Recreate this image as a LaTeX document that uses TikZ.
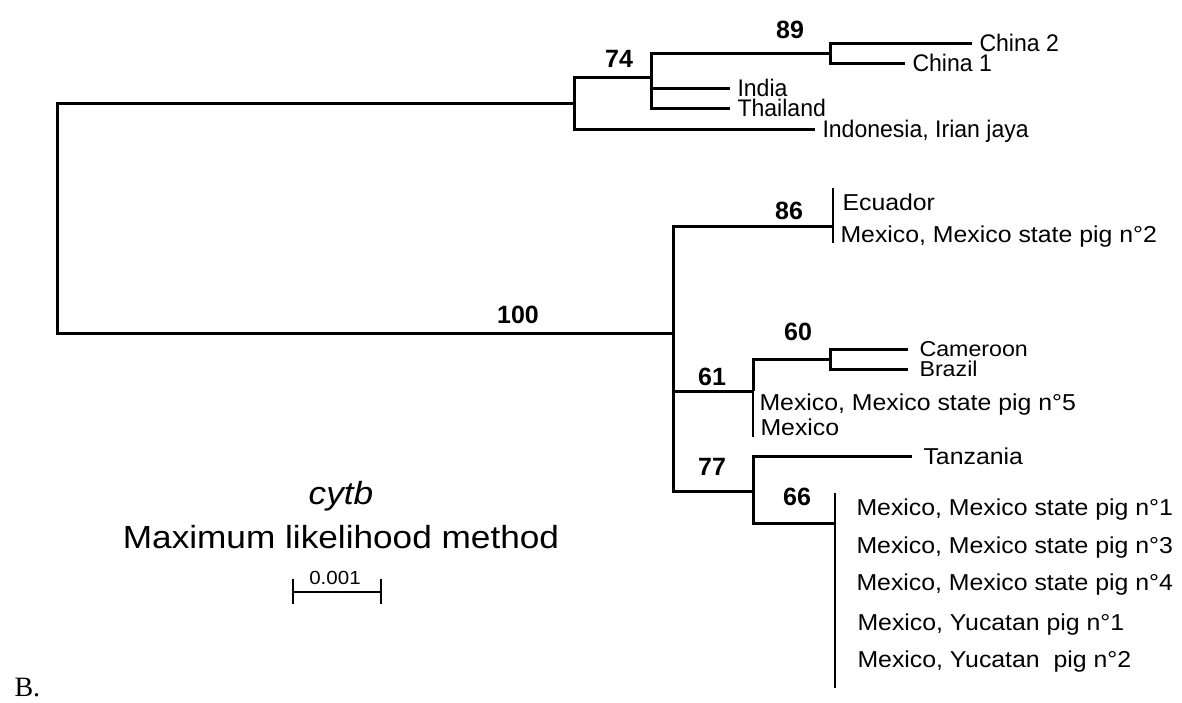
\documentclass[tikz,border=0pt]{standalone}
\usepackage{fontspec}
\setmainfont{Liberation Sans}
\newfontfamily\upfont[FakeStretch=0.96]{Liberation Sans}
\newfontfamily\lowfont[FakeStretch=1.08]{Liberation Sans}
\newfontfamily\titlefont[FakeStretch=1.1]{Liberation Sans}
\newfontfamily\letterfont{Liberation Serif}

\begin{document}
\begin{tikzpicture}[x=1pt, y=-1pt, line width=3pt,
  upleaf/.style={anchor=west, inner xsep=6pt, inner ysep=0pt, text height=17pt, text depth=0pt,
    font=\upfont\fontsize{24}{28}\selectfont},
  lowleaf/.style={anchor=west, inner xsep=2pt, inner ysep=0pt, text height=16.5pt, text depth=0pt,
    font=\lowfont\fontsize{23}{27}\selectfont},
  tip/.style={lowleaf, inner xsep=10pt},
  pairtip/.style={tip, text height=15.5pt, font=\lowfont\fontsize{21.5}{25}\selectfont},
  boot/.style={inner sep=0pt, font=\bfseries\fontsize{25}{30}\selectfont},
  bar/.style={line width=2.5pt}]
  \useasboundingbox (0,0) rectangle (1182,702);

  % inner nodes of the tree
  \coordinate (root) at (57,218);
  \coordinate (nA) at (574,103);
  \coordinate (n74) at (651,77);
  \coordinate (n89) at (830,53);
  \coordinate (nB) at (673,333);
  \coordinate (c86) at (833,226);
  \coordinate (n61) at (753,391);
  \coordinate (n60) at (830,359);
  \coordinate (n77) at (753,491);
  \coordinate (c66) at (835,523);

  % upper clade
  \node[upleaf] (China2) at (972,43) {China 2};
  \node[upleaf] (China1) at (905,63) {China 1};
  \node[upleaf] (India) at (730,88) {India};
  \node[upleaf] (Thailand) at (730,108) {Thailand};
  \node[upleaf] (Indonesia) at (815,129) {Indonesia, Irian jaya};

  % lower clade
  \node[lowleaf] (Ecuador) at (839,202) {Ecuador};
  \node[lowleaf] (MexSt2) at (837,234) {Mexico, Mexico state pig n°2};
  \node[pairtip] (Cameroon) at (908,349) {Cameroon};
  \node[pairtip] (Brazil) at (908,369) {Brazil};
  \node[lowleaf] (MexSt5) at (756,402) {Mexico, Mexico state pig n°5};
  \node[lowleaf] (Mexico) at (757,427) {Mexico};
  \node[tip] (Tanzania) at (912,456) {Tanzania};
  \foreach \x/\y/\txt [count=\i] in {853/507/{Mexico, Mexico state pig n°1},
      853/545/{Mexico, Mexico state pig n°3}, 853/582/{Mexico, Mexico state pig n°4},
      854/622/{Mexico, Yucatan pig n°1}, 854/659/{Mexico, Yucatan\ \ pig n°2}} {
    \node[lowleaf] (grp\i) at (\x,\y) {\txt};
  }

  % branches
  \draw (nA) -| (root) |- (nB);
  \draw (n74) -| (nA) |- (Indonesia);
  \draw (n89) -| (n74) |- (Thailand);
  \draw (n74) |- (India);
  \draw (China2) -| (n89) |- (China1);
  \draw (c86) -| (nB) |- (n77);
  \draw (nB) |- (n61);
  \draw (n60) -| (n61);
  \draw (Cameroon) -| (n60) |- (Brazil);
  \draw (Tanzania) -| (n77) |- (c66);

  % collapsed tips
  \coordinate (top86) at (833,188);
  \coordinate (bot86) at (833,243);
  \coordinate (bot61) at (753,437);
  \coordinate (top66) at (835,493);
  \coordinate (bot66) at (835,688);
  \draw[bar] (top86) -- (bot86);
  \draw[line width=2.2pt] (n61) -- (bot61);
  \draw[bar] (top66) -- (bot66);

  % bootstrap values
  \node[boot] (b100) at (518,315) {100};
  \node[boot] (b74) at (619,59) {74};
  \node[boot] (b89) at (790,30) {89};
  \node[boot] (b86) at (789,211) {86};
  \node[boot] (b60) at (798,332) {60};
  \node[boot] (b61) at (712,377) {61};
  \node[boot] (b77) at (712,467) {77};
  \node[boot] (b66) at (797,497) {66};

  % legend and scale bar
  \node[anchor=base, inner sep=0pt, font=\titlefont\itshape\fontsize{32}{38}\selectfont] (gene) at (341,504) {cytb};
  \node[anchor=base, inner sep=0pt, font=\titlefont\fontsize{32}{38}\selectfont] (method) at (341,548) {Maximum likelihood method};
  \coordinate (sbL) at (293,592);
  \coordinate (sbR) at (381,592);
  \draw[line width=2.4pt] (sbL) -- (sbR);
  \draw[line width=2.4pt] (sbL) ++(0,-13) -- ++(0,25);
  \draw[line width=2.4pt] (sbR) ++(0,-13) -- ++(0,25);
  \node[inner sep=0pt, font=\lowfont\fontsize{19}{22}\selectfont] (sbtext) at (335,578) {0.001};

  \node[anchor=base west, inner sep=0pt, font=\letterfont\fontsize{28}{32}\selectfont] (panel) at (13,696) {B.};
\end{tikzpicture}
\end{document}
